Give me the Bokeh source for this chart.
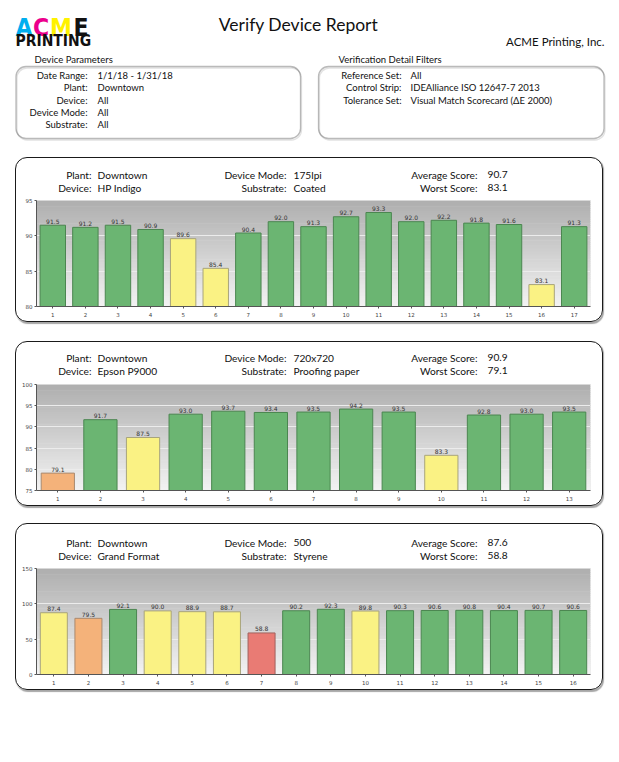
import numpy as np
from bokeh.plotting import figure
from bokeh.models import (Range1d, FactorRange, ColumnDataSource, Label,
                          BoxAnnotation, FixedTicker)
from bokeh.embed import file_html
from bokeh.resources import INLINE
from bokeh.core.properties import value

FONT = "Lato"
LOGO_FONT = "DejaVu Sans Condensed"

# ---------------- data ----------------
report_title = "Verify Device Report"
company_name = "ACME Printing, Inc."
logo_letters = ["A", "C", "M", "E"]
logo_colors = ["#00aeef", "#ec008c", "#fff200", "#111111"]
logo_line2 = "PRINTING"

param_title = "Device Parameters"
param_labels = ["Date Range:", "Plant:", "Device:", "Device Mode:", "Substrate:"]
param_values = ["1/1/18 - 1/31/18", "Downtown", "All", "All", "All"]

filter_title = "Verification Detail Filters"
filter_labels = ["Reference Set:", "Control Strip:", "Tolerance Set:"]
filter_values = ["All", "IDEAlliance ISO 12647-7 2013", "Visual Match Scorecard (\u0394E 2000)"]

info_labels = ["Plant:", "Device:", "Device Mode:", "Substrate:", "Average Score:", "Worst Score:"]

dev1_info = ["Downtown", "HP Indigo", "175lpi", "Coated", "90.7", "83.1"]
dev1_cats = [str(i) for i in range(1, 18)]
dev1_scores = [91.5, 91.2, 91.5, 90.9, 89.6, 85.4, 90.4, 92.0, 91.3, 92.7, 93.3,
               92.0, 92.2, 91.8, 91.6, 83.1, 91.3]
dev1_status = ["pass", "pass", "pass", "pass", "warn", "warn", "pass", "pass", "pass",
               "pass", "pass", "pass", "pass", "pass", "pass", "warn", "pass"]
dev1_yticks = [80, 85, 90, 95]

dev2_info = ["Downtown", "Epson P9000", "720x720", "Proofing paper", "90.9", "79.1"]
dev2_cats = [str(i) for i in range(1, 14)]
dev2_scores = [79.1, 91.7, 87.5, 93.0, 93.7, 93.4, 93.5, 94.2, 93.5, 83.3, 92.8, 93.0, 93.5]
dev2_status = ["poor", "pass", "warn", "pass", "pass", "pass", "pass", "pass", "pass",
               "warn", "pass", "pass", "pass"]
dev2_yticks = [75, 80, 85, 90, 95, 100]

dev3_info = ["Downtown", "Grand Format", "500", "Styrene", "87.6", "58.8"]
dev3_cats = [str(i) for i in range(1, 17)]
dev3_scores = [87.4, 79.5, 92.1, 90.0, 88.9, 88.7, 58.8, 90.2, 92.3, 89.8, 90.3,
               90.6, 90.8, 90.4, 90.7, 90.6]
dev3_status = ["warn", "poor", "pass", "warn", "warn", "warn", "fail", "pass", "pass",
               "warn", "pass", "pass", "pass", "pass", "pass", "pass"]
dev3_yticks = [0, 50, 100, 150]

STATUS_FILL = {"pass": "#6bb572", "warn": "#faf284", "poor": "#f4b27a", "fail": "#e97b74"}
STATUS_LINE = {"pass": "#4b8650", "warn": "#a8a47c", "poor": "#a88a70", "fail": "#a0625e"}

INK = "#111111"


def hexc(rgb):
    return "#%02x%02x%02x" % tuple(int(round(v)) for v in rgb)


# ---------------- header (page pixel coordinates) ----------------
h = figure(width=619, height=150, x_range=Range1d(0, 619), y_range=Range1d(150, 0),
           toolbar_location=None, output_backend="svg", min_border=0, title=None,
           x_axis_location=None, y_axis_location=None)
h.grid.visible = False
h.outline_line_color = None

h.text(x=[15, 32.5, 49.5, 73], y=[26.5] * 4, text=logo_letters, text_color=logo_colors,
       text_font=value(LOGO_FONT), text_font_style="bold", text_font_size="24.5px",
       text_baseline="alphabetic", text_align="left")
h.text(x=[15], y=[40.5], text=[logo_line2], text_color=INK,
       text_font=value(LOGO_FONT), text_font_style="bold", text_font_size="15.5px",
       text_baseline="alphabetic", text_align="left")

h.text(x=[298], y=[24.2], text=[report_title], text_font=value(FONT), text_font_size="17.5px",
       text_align="center", text_baseline="alphabetic", text_color=INK)
h.text(x=[604], y=[41.2], text=[company_name], text_font=value(FONT), text_font_size="11.5px",
       text_align="right", text_baseline="alphabetic", text_color=INK)
h.text(x=[34, 338], y=[58.7, 58.7], text=[param_title, filter_title], text_font=value(FONT),
       text_font_size="9.5px", text_align="left", text_baseline="alphabetic", text_color=INK)

rows = [75.0, 87.3, 99.6, 111.9, 124.2]
h.text(x=[87] * 5, y=rows, text=param_labels, text_font=value(FONT), text_font_size="9.5px",
       text_align="right", text_baseline="alphabetic", text_color=INK)
h.text(x=[97] * 5, y=rows, text=param_values, text_font=value(FONT), text_font_size="9.5px",
       text_align="left", text_baseline="alphabetic", text_color=INK)
h.text(x=[401] * 3, y=rows[:3], text=filter_labels, text_font=value(FONT), text_font_size="9.5px",
       text_align="right", text_baseline="alphabetic", text_color=INK)
h.text(x=[410] * 3, y=rows[:3], text=filter_values, text_font=value(FONT), text_font_size="9.5px",
       text_align="left", text_baseline="alphabetic", text_color=INK)

for l, r in [(15.5, 300), (318, 603.5)]:
    h.add_layout(BoxAnnotation(left=l + 1, right=r + 1, top=67.5, bottom=139.5, fill_alpha=0,
                               line_color="#a0a0a0", line_width=1.3, border_radius=10))
    h.add_layout(BoxAnnotation(left=l, right=r, top=66, bottom=138, fill_alpha=0,
                               line_color="#1a1a1a", line_width=1.3, border_radius=10))


# ---------------- panels ----------------
def make_panel(info, cats, scores, status, ylo, yhi, yticks,
               panel_top, panel_bot, chart_top, chart_bot, row_pages, gap):
    height = panel_bot - panel_top
    top_b, bot_b = 3, panel_bot - chart_bot
    frame_h = height - top_b - bot_b
    yend = ylo + (yhi - ylo) * frame_h / (chart_bot - chart_top)

    p = figure(width=588, height=height, x_range=FactorRange(*cats), y_range=Range1d(ylo, yend),
               toolbar_location=None, output_backend="svg", title=None,
               min_border_left=20, min_border_right=14, min_border_top=top_b,
               min_border_bottom=bot_b)
    p.outline_line_color = None
    p.background_fill_color = None
    p.border_fill_color = None
    p.styles = {"margin-left": "15px", "margin-top": "%dpx" % gap,
                "border": "1.3px solid #1a1a1a", "border-radius": "12px",
                "box-shadow": "1px 1.5px 1px rgba(0,0,0,0.35)"}

    # vertical gradient background of the chart area
    n = 50
    edges = np.linspace(ylo, yhi, n + 1)
    c_bot = np.array([0xf3, 0xf3, 0xf3])
    c_top = np.array([0xae, 0xae, 0xae])
    step = (yhi - ylo) / n
    for i in range(n):
        t = (i + 0.5) / n
        top_e = min(edges[i + 1] + step * 0.3, yhi)
        p.add_layout(BoxAnnotation(bottom=edges[i], top=top_e,
                                   fill_color=hexc(c_bot + (c_top - c_bot) * t), fill_alpha=1,
                                   line_color=None, level="image"))
    p.add_layout(BoxAnnotation(bottom=ylo, top=yhi, fill_alpha=0, line_color="#a8a8a8",
                               line_width=1, level="underlay"))

    p.xgrid.visible = False
    p.ygrid.ticker = FixedTicker(ticks=yticks)
    p.ygrid.grid_line_color = "#ececec"
    p.ygrid.grid_line_width = 1

    src = ColumnDataSource(dict(
        cat=cats, score=scores,
        fill=[STATUS_FILL[s] for s in status],
        line=[STATUS_LINE[s] for s in status],
        lbl=["%.1f" % v for v in scores]))
    p.vbar(x="cat", top="score", bottom=ylo, width=0.78, source=src,
           fill_color="fill", line_color="line", line_width=1)
    p.text(x="cat", y="score", text="lbl", source=src, text_font=value("DejaVu Sans"),
           text_font_size="6px", text_align="center", text_baseline="bottom",
           y_offset=-1.5, text_color="#333333")

    for ax in (p.xaxis[0], p.yaxis[0]):
        ax.axis_line_color = "#555555"
        ax.major_tick_line_color = "#555555"
        ax.major_tick_out = 2
        ax.major_tick_in = 0
        ax.minor_tick_line_color = None
        ax.major_label_text_font = "DejaVu Sans"
        ax.major_label_text_font_size = "5.5px"
        ax.major_label_text_color = "#444444"
        ax.major_label_standoff = 2
    p.yaxis.ticker = FixedTicker(ticks=yticks)
    p.yaxis.bounds = (ylo, yhi)
    p.xaxis.major_label_standoff = 3

    # info rows (frame-relative screen units, inside the frame)
    xs_lab = [55, 250, 441]
    xs_val = [61, 257, 451]
    for k in range(6):
        col, row = divmod(k, 2)
        yy = chart_bot - row_pages[row] + 2
        p.add_layout(Label(x=xs_lab[col], y=yy, x_units="screen", y_units="screen",
                           text=info_labels[k], text_align="right", text_baseline="middle",
                           text_font=FONT, text_font_size="10.2px", text_color=INK))
        p.add_layout(Label(x=xs_val[col], y=yy, x_units="screen", y_units="screen",
                           text=info[k], text_align="left", text_baseline="middle",
                           text_font=FONT, text_font_size="10.2px", text_color=INK))
    return p


p1 = make_panel(dev1_info, dev1_cats, dev1_scores, dev1_status, 80, 95, dev1_yticks,
                157, 322, 199, 305, [175, 188], 7)
p2 = make_panel(dev2_info, dev2_cats, dev2_scores, dev2_status, 75, 100, dev2_yticks,
                341, 506, 383, 489, [358, 371], 19)
p3 = make_panel(dev3_info, dev3_cats, dev3_scores, dev3_status, 0, 150, dev3_yticks,
                523, 690, 567, 673, [543, 556], 17)

open("out.html", "w").write(file_html([h, p1, p2, p3], INLINE))
